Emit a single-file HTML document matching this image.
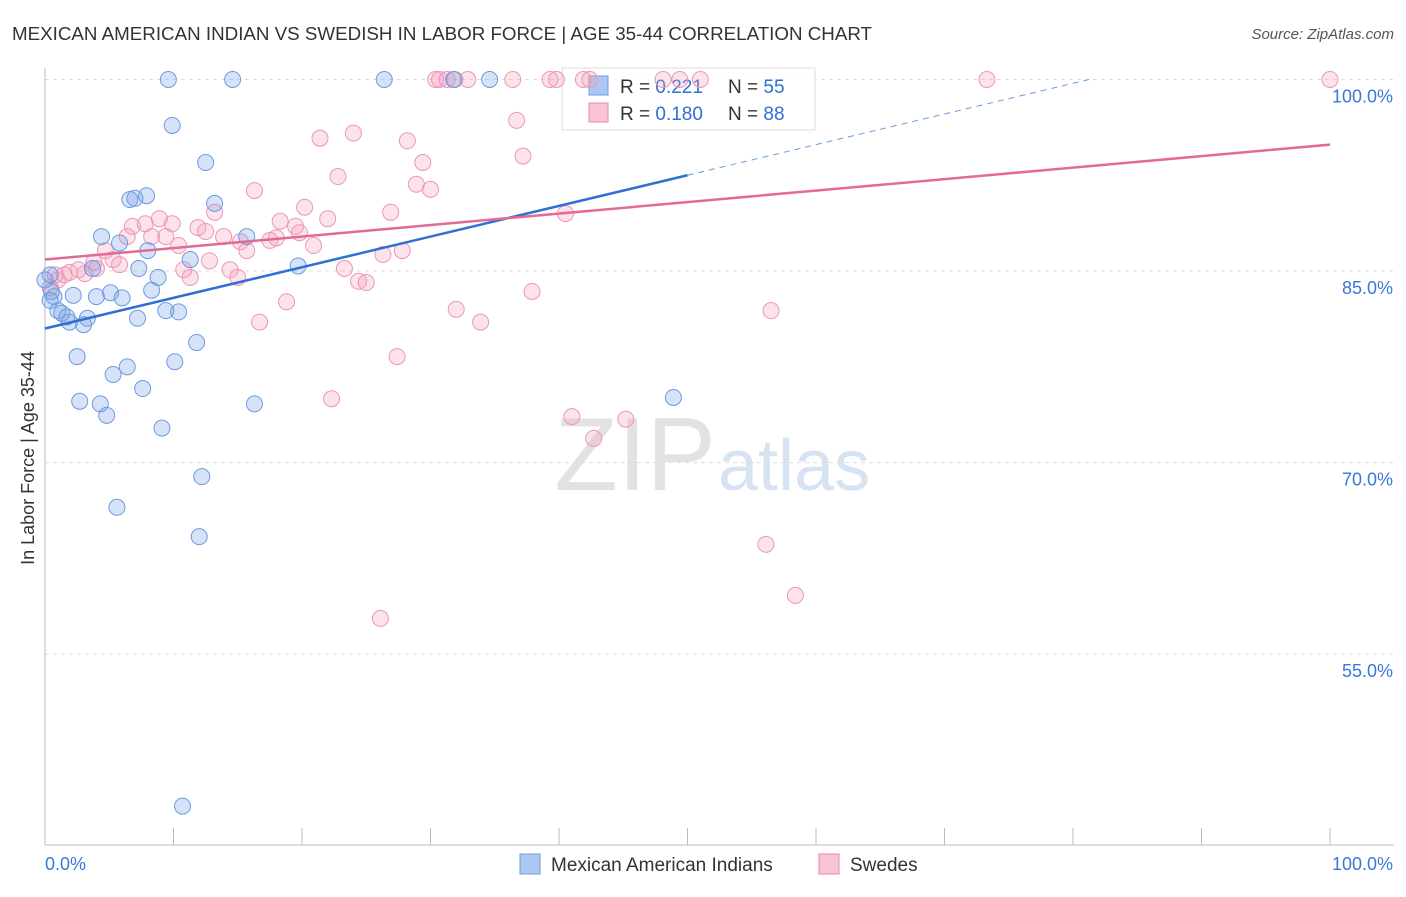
<!DOCTYPE html>
<html><head><meta charset="utf-8"><style>
body{margin:0;background:#fff;font-family:"Liberation Sans",sans-serif;}
svg text{font-family:"Liberation Sans",sans-serif;}
</style></head><body>
<svg id="chart" width="1406" height="892">
<text x="12" y="40" font-size="18" fill="#333" textLength="860" lengthAdjust="spacingAndGlyphs">MEXICAN AMERICAN INDIAN VS SWEDISH IN LABOR FORCE | AGE 35-44 CORRELATION CHART</text>
<text x="1394" y="39" font-size="15" fill="#555" text-anchor="end" font-style="italic">Source: ZipAtlas.com</text>
<text x="716" y="490" font-size="104" fill="#e2e2e2" text-anchor="end" font-family="Liberation Serif">ZIP</text>
<text x="718" y="490" font-size="72" fill="#d6e3f3">atlas</text>
<text transform="translate(34,458) rotate(-90)" font-size="18" fill="#333" text-anchor="middle">In Labor Force | Age 35-44</text>
<g id="grid"></g>
<g>
<rect x="562" y="68" width="253" height="62" fill="rgba(255,255,255,0.85)" stroke="#ddd"/>
<rect x="589" y="76" width="19" height="19" fill="#aac8f3" stroke="#6c9be0"/>
<text x="620" y="93" font-size="19" fill="#333">R = <tspan fill="#2f6fd6">0.221</tspan></text>
<text x="728" y="93" font-size="19" fill="#333">N = <tspan fill="#2f6fd6">55</tspan></text>
<rect x="589" y="103" width="19" height="19" fill="#f8c3d4" stroke="#e88aaa"/>
<text x="620" y="120" font-size="19" fill="#333">R = <tspan fill="#2f6fd6">0.180</tspan></text>
<text x="728" y="120" font-size="19" fill="#333">N = <tspan fill="#2f6fd6">88</tspan></text>
</g>
<g id="pts"></g><g id="trend"></g>
<g>
<rect x="520" y="854" width="20" height="20" fill="#aac8f3" stroke="#6c9be0"/>
<text x="551" y="871" font-size="19" fill="#333">Mexican American Indians</text>
<rect x="819" y="854" width="20" height="20" fill="#f8c3d4" stroke="#e88aaa"/>
<text x="850" y="871" font-size="19" fill="#333">Swedes</text>
</g>
</svg>
<script>
const yTicks=[100,85,70,55];
const yTickLabels=["100.0%","85.0%","70.0%","55.0%"];
const xTickLabels=["0.0%","100.0%"];
const blueX=[9.6,14.6,26.4,31.8,34.6,9.9,12.5,6.6,7.0,7.9,13.2,4.4,5.8,8.0,15.7,11.3,19.7,7.3,3.7,0.4,0.5,0.7,2.2,4.0,5.1,6.0,8.3,8.8,1.0,1.3,1.7,1.9,3.0,3.3,7.2,9.4,10.4,11.8,2.5,10.1,5.3,6.4,7.6,2.7,4.3,4.8,9.1,16.3,48.9,12.2,5.6,12.0,10.7,0.0,0.4];
const blueY=[100,100,100,100,100,96.4,93.5,90.6,90.7,90.9,90.3,87.7,87.2,86.6,87.7,85.9,85.4,85.2,85.2,84.7,83.4,83.0,83.1,83.0,83.3,82.9,83.5,84.5,81.9,81.7,81.4,81.0,80.8,81.3,81.3,81.9,81.8,79.4,78.3,77.9,76.9,77.5,75.8,74.8,74.6,73.7,72.7,74.6,75.1,68.9,66.5,64.2,43.1,84.3,82.7];
const pinkX=[30.4,30.7,31.3,31.9,32.9,36.4,39.3,39.8,41.9,42.4,48.1,49.4,51.0,73.3,100,21.4,24.0,28.2,36.7,37.2,22.8,29.4,28.9,30.0,16.3,13.2,20.2,26.9,40.5,8.9,6.8,7.8,9.9,11.9,12.5,18.3,19.5,19.8,22.0,13.9,6.4,8.3,9.4,10.4,15.2,15.7,17.5,18.0,20.9,5.3,4.7,5.8,3.8,2.6,1.9,1.5,1.0,10.8,11.3,12.8,14.4,15.0,23.3,24.4,25.0,26.3,27.8,37.9,18.8,16.7,32.0,33.9,27.4,22.3,41.0,42.7,45.2,56.5,56.1,58.4,26.1,4.0,3.1,0.4,0.8];
const pinkY=[100,100,100,100,100,100,100,100,100,100,100,100,100,100,100,95.4,95.8,95.2,96.8,94.0,92.4,93.5,91.8,91.4,91.3,89.6,90.0,89.6,89.5,89.1,88.5,88.7,88.7,88.4,88.1,88.9,88.5,88.0,89.1,87.7,87.7,87.7,87.7,87.0,87.3,86.6,87.4,87.6,87.0,85.9,86.6,85.5,85.7,85.1,84.9,84.7,84.3,85.1,84.5,85.8,85.1,84.5,85.2,84.2,84.1,86.3,86.6,83.4,82.6,81.0,82.0,81.0,78.3,75.0,73.6,71.9,73.4,81.9,63.6,59.6,57.8,85.2,84.8,83.7,84.7];
const blueTrend=[80.5,0.24];
const pinkTrend=[85.9,0.09];
const NS="http://www.w3.org/2000/svg";
const X=v=>45+v*12.85, Y=v=>79.5+(100-v)*12.77;
function mk(t,a,p){const e=document.createElementNS(NS,t);for(const k in a)e.setAttribute(k,a[k]);p.appendChild(e);return e;}
const g=document.getElementById('grid');
yTicks.forEach((t,i)=>{
 const l=mk('line',{x1:45,x2:1394,y1:Y(t),y2:Y(t),stroke:'#ddd','stroke-dasharray':'4,4'},g);
 
 
 const tx=mk('text',{x:1393,y:Y(t)+23,'font-size':18,fill:'#3a78d8','text-anchor':'end'},g);
 tx.textContent=yTickLabels[i];
 
 
});
mk('line',{x1:45,x2:45,y1:68,y2:845,stroke:'#bbb'},g);
mk('line',{x1:45,x2:1394,y1:845,y2:845,stroke:'#bbb'},g);
for(let i=0;i<=10;i++){const t=mk('line',{x1:X(i*10),x2:X(i*10),y1:828,y2:845,stroke:'#bbb'},g);}
const x0=mk('text',{x:45,y:870,'font-size':18,fill:'#3a78d8'},g);x0.textContent=xTickLabels[0];


const x1=mk('text',{x:1393,y:870,'font-size':18,fill:'#3a78d8','text-anchor':'end'},g);x1.textContent=xTickLabels[1];


const p=document.getElementById('pts');
pinkX.forEach((v,i)=>{const c=mk('circle',{cx:X(v),cy:Y(pinkY[i]),r:8,fill:'rgba(244,160,188,0.3)',stroke:'#eb98b5','stroke-width':1},p);
 
 });
blueX.forEach((v,i)=>{const c=mk('circle',{cx:X(v),cy:Y(blueY[i]),r:8,fill:'rgba(120,160,230,0.3)',stroke:'#6c9be0','stroke-width':1},p);
 
 });
const tr=document.getElementById('trend');
const bl=mk('line',{x1:X(0),y1:Y(blueTrend[0]),x2:X(50),y2:Y(blueTrend[0]+50*blueTrend[1]),stroke:'#2f6fd6','stroke-width':2.5},tr);


const xe=(100-blueTrend[0])/blueTrend[1];
const bd=mk('line',{x1:X(50),y1:Y(blueTrend[0]+50*blueTrend[1]),x2:X(xe),y2:Y(100),stroke:'#6c9be0','stroke-width':1,'stroke-dasharray':'6,5'},tr);


const pl=mk('line',{x1:X(0),y1:Y(pinkTrend[0]),x2:X(100),y2:Y(pinkTrend[0]+100*pinkTrend[1]),stroke:'#e26a95','stroke-width':2.5},tr);


</script>
</body></html>
